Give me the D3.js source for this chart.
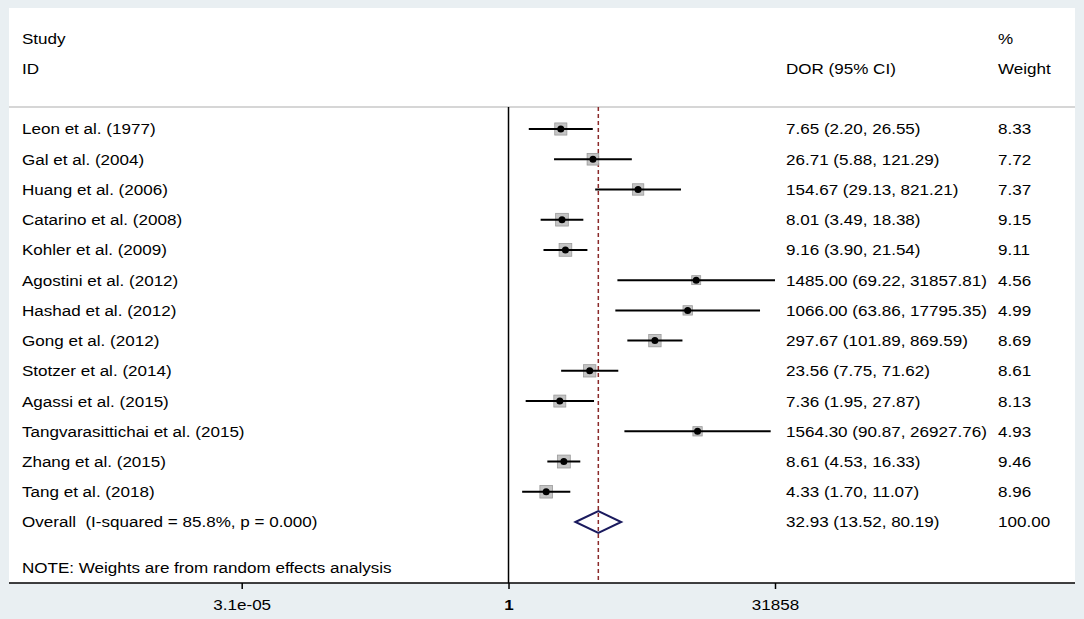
<!DOCTYPE html>
<html>
<head>
<meta charset="utf-8">
<script src="https://cdn.jsdelivr.net/npm/d3@7"></script>
<style>
  html, body { margin: 0; padding: 0; background: #e9eff2; }
  svg { display: block; }
  text { font-family: "Liberation Sans", Arial, sans-serif; font-size: 15.5px; fill: #000; white-space: pre; }
</style>
</head>
<body>
<svg id="chart" width="1084" height="619"></svg>
<script>
// ---- data ----
const studies = [
  "Leon et al. (1977)", "Gal et al. (2004)", "Huang et al. (2006)", "Catarino et al. (2008)",
  "Kohler et al. (2009)", "Agostini et al. (2012)", "Hashad et al. (2012)", "Gong et al. (2012)",
  "Stotzer et al. (2014)", "Agassi et al. (2015)", "Tangvarasittichai et al. (2015)",
  "Zhang et al. (2015)", "Tang et al. (2018)"
];
const dor    = [7.65, 26.71, 154.67, 8.01, 9.16, 1485.00, 1066.00, 297.67, 23.56, 7.36, 1564.30, 8.61, 4.33];
const lower  = [2.20, 5.88, 29.13, 3.49, 3.90, 69.22, 63.86, 101.89, 7.75, 1.95, 90.87, 4.53, 1.70];
const upper  = [26.55, 121.29, 821.21, 18.38, 21.54, 31857.81, 17795.35, 869.59, 71.62, 27.87, 26927.76, 16.33, 11.07];
const weight = [8.33, 7.72, 7.37, 9.15, 9.11, 4.56, 4.99, 8.69, 8.61, 8.13, 4.93, 9.46, 8.96];

const overallLabel = "Overall  (I-squared = 85.8%, p = 0.000)";
const overall = [32.93, 13.52, 80.19, 100.00]; // estimate, lower, upper, weight

const tickValues = [3.1e-05, 1, 31858];
const tickLabels = ["3.1e-05", "1", "31858"];

const noteText = "NOTE: Weights are from random effects analysis";

// ---- layout ----
const svg = d3.select("#chart");
const panel = { x0: 9, x1: 1075, y0: 8, y1: 583 };
const headerLineY = 107;
const colLabel = 22, colCI = 786, colW = 998;
const SX = 1.1; // horizontal stretch of the text

function putText(g, str, px, py) {
  return g.append("text")
    .attr("transform", `translate(${px},${py}) scale(${SX},1)`)
    .attr("dy", "0.35em").text(str);
}

svg.append("rect").attr("x", panel.x0).attr("y", panel.y0)
  .attr("width", panel.x1 - panel.x0).attr("height", panel.y1 - panel.y0)
  .attr("fill", "#fff");

const x = d3.scaleLog().domain([3.1e-05, 31858]).range([241.7, 775]);
const y = d3.scaleLinear().domain([0, studies.length]).range([129, 522]);

const f2 = d3.format(".2f");

// header
svg.append("line").attr("x1", panel.x0).attr("x2", panel.x1)
  .attr("y1", headerLineY).attr("y2", headerLineY)
  .attr("stroke", "#c8c8c8").attr("stroke-width", 1.5);

putText(svg, "Study", colLabel, 39);
putText(svg, "ID", colLabel, 69);
putText(svg, "DOR (95% CI)", colCI, 69);
putText(svg, "%", colW, 39);
putText(svg, "Weight", colW, 69);

// null line at 1
svg.append("line").attr("x1", x(1)).attr("x2", x(1))
  .attr("y1", headerLineY).attr("y2", panel.y1)
  .attr("stroke", "#000").attr("stroke-width", 1.5);

// overall dashed line
svg.append("line").attr("x1", x(overall[0])).attr("x2", x(overall[0]))
  .attr("y1", headerLineY).attr("y2", panel.y1)
  .attr("stroke", "#8b2a2a").attr("stroke-width", 1.5)
  .attr("stroke-dasharray", "4,3");

const rows = studies.map((s, i) => ({ s, i, est: dor[i], lo: lower[i], hi: upper[i], w: weight[i] }));

// boxes
const boxSide = w => 4.2 * Math.sqrt(w);
svg.selectAll("rect.box").data(rows).join("rect").attr("class", "box")
  .attr("x", d => x(d.est) - boxSide(d.w) / 2)
  .attr("y", d => y(d.i) - boxSide(d.w) / 2)
  .attr("width", d => boxSide(d.w)).attr("height", d => boxSide(d.w))
  .attr("fill", "#c4c4c4").attr("stroke", "#9a9a9a").attr("stroke-width", 0.8);

// CI lines
svg.selectAll("line.ci").data(rows).join("line").attr("class", "ci")
  .attr("x1", d => x(d.lo)).attr("x2", d => x(d.hi))
  .attr("y1", d => y(d.i)).attr("y2", d => y(d.i))
  .attr("stroke", "#000").attr("stroke-width", 2);

// points
svg.selectAll("circle.pt").data(rows).join("circle").attr("class", "pt")
  .attr("cx", d => x(d.est)).attr("cy", d => y(d.i)).attr("r", 3.5)
  .attr("fill", "#000");

// labels
rows.forEach(d => {
  putText(svg, d.s, colLabel, y(d.i));
  putText(svg, `${f2(d.est)} (${f2(d.lo)}, ${f2(d.hi)})`, colCI, y(d.i));
  putText(svg, f2(d.w), colW, y(d.i));
});

// overall row
const yo = y(studies.length);
putText(svg, overallLabel, colLabel, yo);
putText(svg, `${f2(overall[0])} (${f2(overall[1])}, ${f2(overall[2])})`, colCI, yo);
putText(svg, f2(overall[3]), colW, yo);

const dh = 11;
svg.append("path")
  .attr("d", `M${x(overall[1])},${yo} L${x(overall[0])},${yo - dh} L${x(overall[2])},${yo} L${x(overall[0])},${yo + dh} Z`)
  .attr("fill", "none").attr("stroke", "#1a1a5e").attr("stroke-width", 2);

// note
putText(svg, noteText, colLabel, 568);

// axis
svg.append("line").attr("x1", panel.x0).attr("x2", panel.x1)
  .attr("y1", panel.y1).attr("y2", panel.y1).attr("stroke", "#000").attr("stroke-width", 1.5);

const axis = d3.axisBottom(x).tickValues(tickValues)
  .tickFormat((d, i) => tickLabels[i]).tickSize(6).tickPadding(10);
const gAxis = svg.append("g").attr("transform", `translate(0,${panel.y1})`).call(axis);
gAxis.select(".domain").remove();
gAxis.selectAll(".tick line").attr("stroke", "#000").attr("stroke-width", 1.5);
gAxis.selectAll(".tick text").attr("font-family", "Liberation Sans, Arial, sans-serif")
  .attr("font-size", "15.5px").attr("fill", "#000")
  .attr("transform", `scale(${SX},1)`)
  .attr("font-weight", (d, i) => tickLabels[i] === "1" ? "bold" : "normal");
</script>
</body>
</html>
